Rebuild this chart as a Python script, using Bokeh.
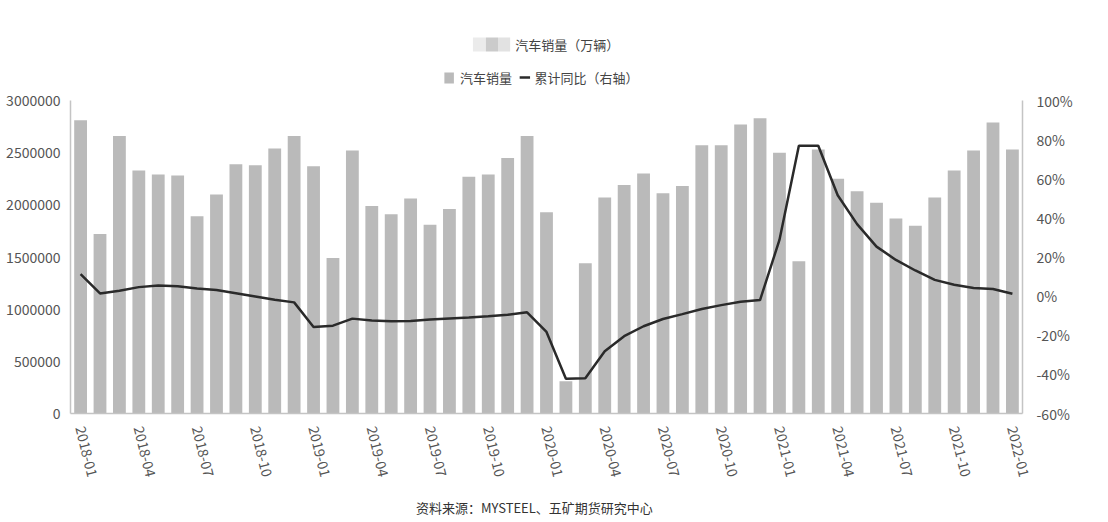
from bokeh.plotting import figure
from bokeh.layouts import column
from bokeh.models import Range1d, LinearAxis, FixedTicker, ColumnDataSource
from bokeh.core.properties import value
from bokeh.embed import file_html
from bokeh.resources import INLINE

# months 2018-01 .. 2022-01
months = [f"{y}-{m:02d}" for y in range(2018, 2023) for m in range(1, 13)][:49]

# 汽车销量 (辆)
sales = [2810000, 1720000, 2660000, 2330000, 2290000, 2280000, 1890000, 2100000, 2390000, 2380000, 2540000, 2660000,
         2370000, 1490000, 2520000, 1990000, 1910000, 2060000, 1810000, 1960000, 2270000, 2290000, 2450000, 2660000,
         1930000, 310000, 1440000, 2070000, 2190000, 2300000, 2110000, 2180000, 2570000, 2570000, 2770000, 2830000,
         2500000, 1460000, 2530000, 2250000, 2130000, 2020000, 1870000, 1800000, 2070000, 2330000, 2520000, 2790000,
         2530000]

# 累计同比 (%)
yoy = [11.2, 1.4, 2.7, 4.6, 5.4, 5.1, 3.9, 3.1, 1.5, -0.2, -1.9, -3.2,
       -15.8, -15.1, -11.5, -12.4, -12.9, -12.7, -12.0, -11.4, -10.9, -10.3, -9.5, -8.3,
       -18.3, -42.2, -42.0, -28.2, -20.5, -15.4, -11.7, -9.2, -6.6, -4.6, -2.9, -2.0,
       28.7, 76.9, 76.9, 51.6, 36.8, 25.3, 18.5, 13.1, 8.3, 5.8, 4.2, 3.6, 1.2]

left_ticks = [0, 500000, 1000000, 1500000, 2000000, 2500000, 3000000]
right_ticks = [-60, -40, -20, 0, 20, 40, 60, 80, 100]

FONT = "Noto Sans CJK SC"
TXT = "#555555"
BAR = "#bababa"
LINE = "#2a2a2a"


def strip(h):
    f = figure(width=1100, height=h, output_backend="svg", toolbar_location=None,
               x_range=Range1d(0, 1100), y_range=Range1d(h, 0),
               x_axis_type=None, y_axis_type=None, min_border=0)
    f.outline_line_color = None
    f.grid.grid_line_color = None
    return f


# header strip: title + legend, laid out in pixel space
head = strip(88)
head.quad(left=[465, 480, 494], right=[480, 494, 508], top=[37, 37, 37], bottom=[51, 51, 51],
          fill_color=["#ebebeb", "#cbcbcb", "#e2e2e2"], line_color=None)
head.text(x=[514], y=[44], text=["汽车销量（万辆）"], text_font=value(FONT), text_font_size="13px",
          text_color="#444444", text_baseline="middle")
head.quad(left=[432], right=[443], top=[72], bottom=[83], fill_color=BAR, line_color=None)
head.text(x=[450], y=[77], text=["汽车销量"], text_font=value(FONT), text_font_size="13px",
          text_color="#444444", text_baseline="middle")
head.segment(x0=[519], y0=[77], x1=[531], y1=[77], line_color=LINE, line_width=2.5)
head.text(x=[536], y=[77], text=["累计同比（右轴）"], text_font=value(FONT), text_font_size="13px",
          text_color="#444444", text_baseline="middle")

src = ColumnDataSource(dict(x=list(range(len(months))), sales=sales, yoy=yoy))

p = figure(width=1100, height=402, output_backend="svg", toolbar_location=None,
           x_range=Range1d(-0.52, len(months) - 0.48), y_range=Range1d(0, 3000000),
           min_border_left=70, min_border_right=78, min_border_top=12, min_border_bottom=77)
p.outline_line_color = None
p.grid.grid_line_color = None
p.extra_y_ranges = {"pct": Range1d(-60, 100)}

p.vbar(x="x", top="sales", width=0.66, source=src, fill_color=BAR, line_color=None)
p.line(x="x", y="yoy", source=src, y_range_name="pct", line_color=LINE, line_width=2.5)

# axes
xa = p.xaxis[0]
xa.ticker = FixedTicker(ticks=list(range(0, len(months), 3)))
xa.major_label_overrides = {i: months[i] for i in range(0, len(months), 3)}
xa.major_label_orientation = -1.33
xa.major_label_standoff = 7

ya = p.yaxis[0]
ya.ticker = FixedTicker(ticks=left_ticks)
ya.major_label_overrides = {t: str(t) for t in left_ticks}
ya.major_label_standoff = 4

ra = LinearAxis(y_range_name="pct", ticker=FixedTicker(ticks=right_ticks),
                major_label_overrides={t: f"{t}%" for t in right_ticks})
ra.major_label_standoff = 8
p.add_layout(ra, "right")

for ax in [xa, ya, ra]:
    ax.axis_line_color = "#c4c4c4"
    ax.axis_line_width = 1.5
    ax.major_tick_line_color = None
    ax.minor_tick_line_color = None
    ax.major_label_text_font = FONT
    ax.major_label_text_font_size = "14px"
    ax.major_label_text_color = TXT

# footer strip: source note
foot = strip(32)
foot.text(x=[536], y=[17], text=["资料来源：MYSTEEL、五矿期货研究中心"], text_font=value(FONT),
          text_font_size="13px", text_color="#333333", text_baseline="middle", text_align="center")

open("out.html", "w").write(file_html(column(head, p, foot, spacing=0), INLINE))
